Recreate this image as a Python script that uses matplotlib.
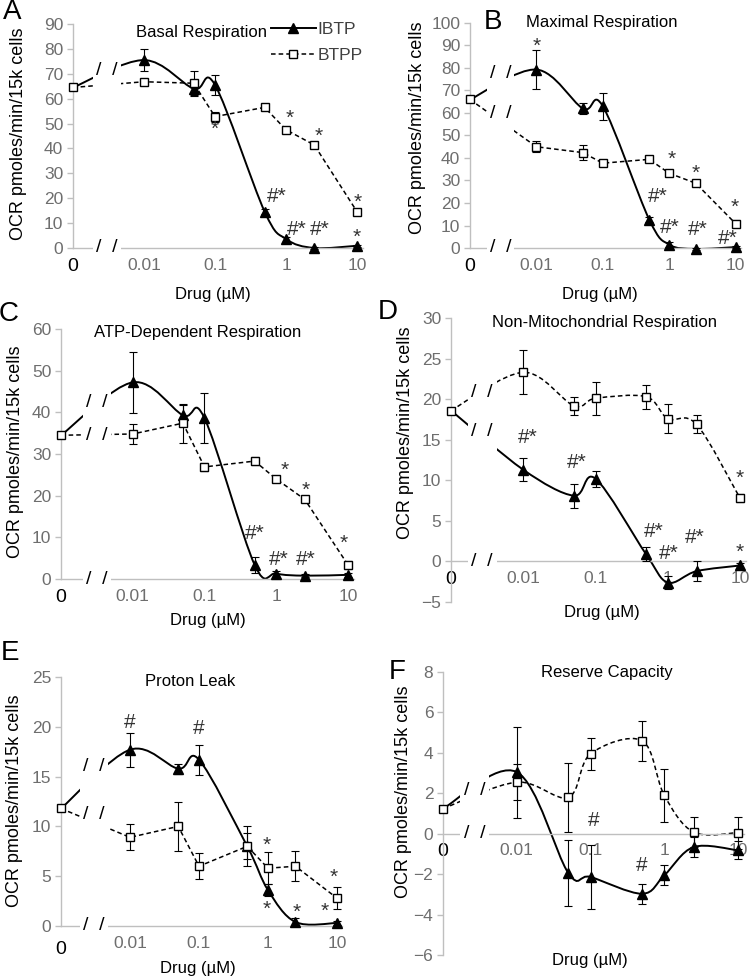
import numpy as np
import matplotlib
matplotlib.use('Agg')
import matplotlib.pyplot as plt
from matplotlib.path import Path
from matplotlib.patches import PathPatch, Rectangle
from matplotlib.lines import Line2D
import matplotlib.transforms as mtrans

plt.rcParams['font.family'] = ['Liberation Sans', 'DejaVu Sans']

W, H = 750, 976
conc = [0, 0.01, 0.05, 0.1, 0.5, 1, 2.5, 10]
xtick_labels = ['0', '0.01', '0.1', '1', '10']

# A - basal respiration
basal_ibtp = [64.5, 75.5, 64.0, 65.5, 14.6, 3.6, 0.0, 0.9]
basal_ibtp_err = [0, 4.5, 2.5, 4.0, 1.0, 1.0, 0.5, 0.5]
basal_btpp = [64.5, 66.8, 66.2, 52.8, 56.5, 47.5, 41.4, 14.6]
basal_btpp_err = [0, 1.0, 5.0, 2.0, 1.0, 1.0, 1.0, 1.0]
basal_marks = [(0.1, 47.5, '*'), (1.14, 52, '*'), (2.85, 45, '*'), (10.2, 18.4, '*'),
               (0.74, 20.7, '#*'), (1.41, 7.3, '#*'), (3.0, 7.3, '#*'), (10, 4.3, '*')]

# B - maximal respiration
max_ibtp = [66.0, 79.3, 62.0, 63.0, 12.6, 1.5, -0.4, 0.4]
max_ibtp_err = [0, 8.5, 2.5, 6.0, 1.0, 1.0, 0.5, 0.5]
max_btpp = [66.0, 45.0, 42.4, 37.7, 39.4, 33.2, 28.8, 10.8]
max_btpp_err = [0, 2.5, 3.5, 1.0, 1.0, 1.0, 1.0, 1.5]
max_marks = [(0.01, 89.5, '*'), (1.08, 39.5, '*'), (2.5, 33, '*'), (9.7, 18.2, '*'),
             (0.67, 22.9, '#*'), (1.0, 8.9, '#*'), (2.7, 8.1, '#*'), (7.6, 4.4, '#*')]

# C - ATP-dependent respiration
atp_ibtp = [34.5, 47.2, 39.3, 38.6, 3.4, 1.3, 0.8, 1.0]
atp_ibtp_err = [0, 7.3, 2.4, 6.0, 2.0, 0.7, 0.4, 0.4]
atp_btpp = [34.5, 34.8, 37.4, 26.9, 28.3, 24.0, 19.1, 3.4]
atp_btpp_err = [0, 2.5, 4.7, 1.0, 1.0, 0.6, 0.6, 1.0]
atp_marks = [(1.32, 26.0, '*'), (2.6, 21.2, '*'), (8.7, 8.6, '*'),
             (0.5, 11, '#*'), (1.07, 4.7, '#*'), (2.6, 4.7, '#*')]

# D - non-mitochondrial respiration
nonmito_ibtp = [18.6, 11.3, 8.1, 10.2, 0.9, -2.6, -1.2, -0.5]
nonmito_ibtp_err = [0, 1.4, 1.5, 1.0, 0.9, 0.8, 1.2, 0.3]
nonmito_btpp = [18.6, 23.3, 19.2, 20.1, 20.3, 17.6, 16.9, 7.8]
nonmito_btpp_err = [0, 2.7, 1.1, 2.0, 1.5, 1.8, 1.1, 0.5]
nonmito_marks = [(0.0117, 15.3, '#*'), (0.055, 12.2, '#*'), (0.63, 3.7, '#*'),
                 (1.02, 1.0, '#*'), (2.4, 2.9, '#*'), (10, 10.2, '*'), (10, 1.1, '*')]

# E - proton leak
leak_ibtp = [11.8, 17.7, 15.8, 16.7, 8.0, 3.6, 0.4, 0.3]
leak_ibtp_err = [0, 1.7, 0.5, 1.5, 2.0, 0.6, 0.4, 0.2]
leak_btpp = [11.8, 8.9, 10.0, 6.0, 8.0, 5.8, 6.0, 2.8]
leak_btpp_err = [0, 1.3, 2.5, 1.3, 1.3, 1.6, 1.5, 1.1]
leak_marks = [(0.01, 20.4, '#'), (0.1, 19.8, '#'), (0.95, 8.1, '*'), (0.95, 1.7, '*'),
              (2.6, 1.4, '*'), (9.1, 4.9, '*'), (6.7, 1.5, '*')]

# F - reserve capacity
reserve_ibtp = [1.24, 3.05, -1.94, -2.14, -2.97, -2.06, -0.66, -0.82]
reserve_ibtp_err = [0, 2.25, 1.65, 1.6, 0.5, 0.5, 0.5, 0.45]
reserve_btpp = [1.24, 2.55, 1.8, 3.95, 4.6, 1.9, 0.08, 0.05]
reserve_btpp_err = [0, 0.9, 1.7, 0.8, 1.0, 1.3, 0.75, 0.8]
reserve_marks = [(0.11, 0.66, '#'), (0.5, -1.56, '#')]

panels = [
    dict(letter='A', title='Basal Respiration', ibtp=basal_ibtp, ibtp_err=basal_ibtp_err,
         btpp=basal_btpp, btpp_err=basal_btpp_err, marks=basal_marks,
         box=(73, 24, 362.7, 248), ylim=(0, 90), step=10, zero_axis=False, smooth_btpp=False,
         brk_x=-2.52, brk_y=[71.5, 0], zero_drop=0,
         letter_xy=(12, 12), title_xy=(202, 32), xlabel_xy=(213, 295), ylabel_xy=(19, 134)),
    dict(letter='B', title='Maximal Respiration', ibtp=max_ibtp, ibtp_err=max_ibtp_err,
         btpp=max_btpp, btpp_err=max_btpp_err, marks=max_marks,
         box=(470, 23, 741, 248), ylim=(0, 100), step=10, zero_axis=False, smooth_btpp=False,
         brk_x=-2.54, brk_y=[77.5, 59.8, 0], zero_drop=0,
         letter_xy=(493, 22), title_xy=(602, 22), xlabel_xy=(600, 294), ylabel_xy=(417, 128)),
    dict(letter='C', title='ATP-Dependent Respiration', ibtp=atp_ibtp, ibtp_err=atp_ibtp_err,
         btpp=atp_btpp, btpp_err=atp_btpp_err, marks=atp_marks,
         box=(61, 329, 353.7, 579), ylim=(0, 60), step=10, zero_axis=False, smooth_btpp=False,
         brk_x=-2.5, brk_y=[42.4, 34.4, 0], zero_drop=0,
         letter_xy=(9, 314), title_xy=(198, 333), xlabel_xy=(208, 620), ylabel_xy=(16, 452)),
    dict(letter='D', title='Non-Mitochondrial Respiration', ibtp=nonmito_ibtp, ibtp_err=nonmito_ibtp_err,
         btpp=nonmito_btpp, btpp_err=nonmito_btpp_err, marks=nonmito_marks,
         box=(451, 318, 745.8, 602), ylim=(-5, 30), step=5, zero_axis=True, smooth_btpp=True,
         brk_x=-2.57, brk_y=[20.8, 16.0, 0], zero_drop=0,
         letter_xy=(388, 312), title_xy=(605, 323), xlabel_xy=(602, 612), ylabel_xy=(406, 433)),
    dict(letter='E', title='Proton Leak', ibtp=leak_ibtp, ibtp_err=leak_ibtp_err,
         btpp=leak_btpp, btpp_err=leak_btpp_err, marks=leak_marks,
         box=(61, 677, 342.5, 926), ylim=(0, 25), step=5, zero_axis=False, smooth_btpp=False,
         brk_x=-2.52, brk_y=[16.0, 11.2, 0], zero_drop=5,
         letter_xy=(10, 653), title_xy=(190, 682), xlabel_xy=(198, 968), ylabel_xy=(15, 801)),
    dict(letter='F', title='Reserve Capacity', ibtp=reserve_ibtp, ibtp_err=reserve_ibtp_err,
         btpp=reserve_btpp, btpp_err=reserve_btpp_err, marks=reserve_marks,
         box=(443, 672, 743.9, 955), ylim=(-6, 8), step=2, zero_axis=True, smooth_btpp=True,
         brk_x=-2.57, brk_y=[2.14, 0], zero_drop=0,
         letter_xy=(397, 672), title_xy=(607, 673), xlabel_xy=(590, 960), ylabel_xy=(403, 792)),
]

GRAY = '#bfbfbf'
TICK = '#6e6e6e'


def xpos(c):
    # the zero dose sits one decade below 0.01
    c = np.asarray(c, float)
    return np.where(c > 0, np.log10(np.where(c > 0, c, 1)), -3.0)


def fig_xy(px, py):
    return px / W, 1 - py / H


def smooth_path(x, y):
    # Excel-like smoothed line: Catmull-Rom converted to cubic Bezier segments
    pts = np.column_stack([x, y]).astype(float)
    n = len(pts)
    verts, codes = [pts[0]], [Path.MOVETO]
    for i in range(n - 1):
        p0 = pts[i - 1] if i > 0 else pts[i]
        p1, p2 = pts[i], pts[i + 1]
        p3 = pts[i + 2] if i + 2 < n else pts[i + 1]
        verts += [p1 + (p2 - p0) / 6, p2 - (p3 - p1) / 6, p2]
        codes += [Path.CURVE4] * 3
    return Path(verts, codes)


fig = plt.figure(figsize=(W / 100, H / 100), dpi=100)

for p in panels:
    l, t, r, b = p['box']
    ax = fig.add_axes([l / W, 1 - b / H, (r - l) / W, (b - t) / H])
    x = xpos(conc)

    # IBTP: smooth solid line, filled triangles
    ax.add_patch(PathPatch(smooth_path(x, p['ibtp']), fill=False, edgecolor='black', lw=1.4, zorder=2))
    ax.errorbar(x[1:], p['ibtp'][1:], yerr=p['ibtp_err'][1:], fmt='^', color='black', ms=7,
                ecolor='black', elinewidth=0.8, capsize=3, capthick=0.8, zorder=3, clip_on=False)

    # BTPP: dashed line, open squares
    if p['smooth_btpp']:
        ax.add_patch(PathPatch(smooth_path(x, p['btpp']), fill=False, edgecolor='black', lw=1.1,
                               linestyle=(0, (3, 2)), zorder=2))
    else:
        ax.plot(x, p['btpp'], color='black', lw=1.1, linestyle=(0, (3, 2)), zorder=2)
    ax.errorbar(x[1:], p['btpp'][1:], yerr=p['btpp_err'][1:], fmt='none', ecolor='black',
                elinewidth=0.8, capsize=3, capthick=0.8, zorder=3)
    ax.plot(x, p['btpp'], 's', ms=5.5, mfc='white', mec='black', mew=1.0, zorder=4, clip_on=False)

    # axis break
    trans = mtrans.blended_transform_factory(ax.transData, ax.transAxes)
    ax.add_patch(Rectangle((p['brk_x'] - 0.2, -0.02), 0.4, 1.02, transform=trans, facecolor='white',
                           edgecolor='none', zorder=2.7, clip_on=False))
    for yb in p['brk_y']:
        ax.text(p['brk_x'], yb, '/  /', ha='center', va='center', fontsize=14, color='black', zorder=5)

    # significance marks
    for cx, cy, s in p['marks']:
        ax.text(float(xpos(cx)), cy, s, ha='center', va='center', fontsize=15, color='#333333', zorder=5)

    ax.set_xlim(-3, 1.08)
    ax.set_ylim(*p['ylim'])
    ax.set_yticks(np.arange(p['ylim'][0], p['ylim'][1] + p['step'] / 2, p['step']))
    ax.set_xticks([-3, -2, -1, 0, 1])
    ax.set_xticklabels(xtick_labels)
    for side in ['top', 'right']:
        ax.spines[side].set_visible(False)
    for side in ['left', 'bottom']:
        ax.spines[side].set_color(GRAY)
        ax.spines[side].set_linewidth(1.0)
    if p['zero_axis']:
        ax.spines['bottom'].set_position(('data', 0))
    ax.tick_params(axis='y', direction='out', length=4, width=1, color=GRAY, labelcolor=TICK,
                   labelsize=12.5, pad=3)
    ax.tick_params(axis='x', length=0, labelcolor=TICK, labelsize=12.5, pad=7)
    for lab in ax.get_xticklabels():
        lab.set_bbox(dict(facecolor='white', edgecolor='none', pad=0.5))
    zl = ax.get_xticklabels()[0]
    zl.set_fontsize(14)
    zl.set_color('black')
    if p['zero_drop']:
        zl.set_transform(zl.get_transform() + mtrans.ScaledTranslation(0, -p['zero_drop'] / 100,
                                                                       fig.dpi_scale_trans))
    ax.patch.set_visible(False)

    if p['letter'] == 'A':
        handles = [Line2D([], [], color='black', lw=1.4, marker='^', ms=7),
                   Line2D([], [], color='black', lw=1.1, linestyle=(0, (3, 2)), marker='s', ms=5.5,
                          mfc='white', mec='black')]
        leg = ax.legend(handles, ['IBTP', 'BTPP'], loc='upper right', bbox_to_anchor=(1.03, 1.05),
                        frameon=False, fontsize=12.5, handlelength=2.6, handletextpad=0.1,
                        labelspacing=0.65, borderpad=0)
        for txt in leg.get_texts():
            txt.set_color('#404040')

    fig.text(*fig_xy(*p['letter_xy']), p['letter'], fontsize=20, ha='center', va='center')
    fig.text(*fig_xy(*p['title_xy']), p['title'], fontsize=12, ha='center', va='center')
    fig.text(*fig_xy(*p['xlabel_xy']), 'Drug (µM)', fontsize=12, ha='center', va='center')
    fig.text(*fig_xy(*p['ylabel_xy']), 'OCR pmoles/min/15k cells', fontsize=13, rotation=90,
             ha='center', va='center')

fig.savefig('out.png', dpi=100)
